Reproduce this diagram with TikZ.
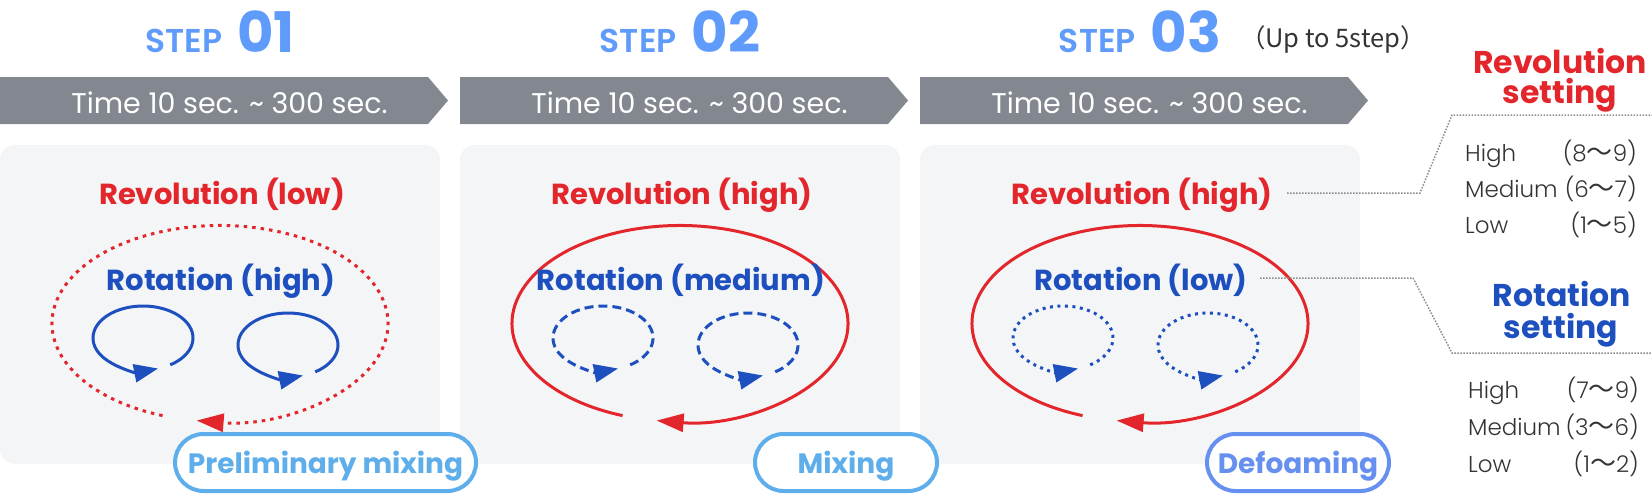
\documentclass[tikz,border=0pt]{standalone}
\usepackage{fontspec}
\setmainfont{Poppins}
\newfontfamily\popsemi{Poppins SemiBold}
\newfontfamily\poplight{Poppins Light}
\newfontfamily\cjk{Noto Sans CJK JP}
\usetikzlibrary{arrows.meta}
\definecolor{stepblue}{HTML}{5E9BFB}
\definecolor{bannergray}{HTML}{83878F}
\definecolor{boxgray}{HTML}{F4F5F7}
\definecolor{revred}{HTML}{E3262B}
\definecolor{rotblue}{HTML}{1D50BE}
\definecolor{pillblue}{HTML}{5DAEEA}
\definecolor{pillpurple}{HTML}{6690F0}
\definecolor{textdark}{HTML}{333333}
\definecolor{leadergray}{HTML}{8C8C8C}
\newcommand\wavedash{{\cjk\fontsize{26}{26}\selectfont 〜}}
\begin{document}
\begin{tikzpicture}[x=1pt,y=-1pt,
  lbl/.style={inner sep=0pt, anchor=base},
  steplbl/.style={lbl, text=stepblue},
  bantext/.style={lbl, text=white, font=\fontsize{28.5}{30}\selectfont},
  revlbl/.style={lbl, text=revred, font=\fontsize{29}{30}\selectfont\bfseries},
  rotlbl/.style={lbl, text=rotblue, font=\fontsize{29}{30}\selectfont\bfseries},
  setlbl/.style={lbl, font=\fontsize{31.5}{31}\selectfont\bfseries},
  panel/.style={fill=boxgray, rounded corners=15pt, minimum width=440pt, minimum height=319pt, inner sep=0pt},
  pill/.style={draw=#1, line width=4pt, fill=white, rounded corners=28.5pt, minimum height=57pt, text=#1, font=\fontsize{28}{30}\selectfont\bfseries, text height=22pt, text depth=0pt, inner sep=0pt},
  revsolid/.style={draw=revred, line width=3pt},
  revdot/.style={revsolid, dash pattern=on 3.5pt off 5pt},
  rotsolid/.style={draw=rotblue, line width=3pt},
  rotdash/.style={rotsolid, dash pattern=on 9pt off 5pt},
  rotdot/.style={rotsolid, dash pattern=on 3pt off 4.5pt},
  redtip/.style={-{Triangle[length=27pt,width=18pt]}},
  bluetip/.style={-{Triangle[length=24pt,width=18pt]}},
  leader/.style={draw=leadergray, line width=1.5pt, dash pattern=on 1.5pt off 1.5pt},
  listtxt/.style={lbl, text=textdark, font=\poplight\fontsize{23}{24}\selectfont},
]
\useasboundingbox (0,0) rectangle (1652,496);

% panels
\node[panel] (b1) at (220,304.5) {};
\node[panel] (b2) at (680,304.5) {};
\node[panel] (b3) at (1140,304.5) {};

% banners
\foreach \ox in {0,460,920} {
  \fill[bannergray] (\ox,77) -- (\ox+428,77) -- (\ox+448,100.5) -- (\ox+428,124) -- (\ox,124) -- cycle;
}
\node[bantext] (t1) at (229.5,113) {Time 10 sec. \char`\~{} 300 sec.};
\node[bantext] (t2) at (689.5,113) {Time 10 sec. \char`\~{} 300 sec.};
\node[bantext] (t3) at (1149.5,113) {Time 10 sec. \char`\~{} 300 sec.};

% step labels
\node[steplbl] (s1) at (220,52) {{\popsemi\fontsize{33}{33}\selectfont STEP}\hspace{15pt}{\bfseries\fontsize{56}{56}\selectfont 01}};
\node[steplbl] (s2) at (680,52) {{\popsemi\fontsize{33}{33}\selectfont STEP}\hspace{15pt}{\bfseries\fontsize{56}{56}\selectfont 02}};
\node[steplbl] (s3) at (1140,52) {{\popsemi\fontsize{33}{33}\selectfont STEP}\hspace{15pt}{\bfseries\fontsize{56}{56}\selectfont 03}};
\node[lbl, text=textdark, font=\cjk\fontsize{25.5}{26}\selectfont] (up) at (1333,47) {（Up to 5step）};

% circulation loops
\foreach \ox/\rs/\bs in {0/revdot/rotsolid, 460/revsolid/rotdash, 920/revsolid/rotdot} {
  \draw[\rs, redtip] (220+\ox,323.5) ++(110:168 and 98) arc[start angle=110, end angle=458, x radius=168, y radius=98];
  \draw[\bs, bluetip] (143+\ox,338) ++(57:50 and 32) arc[start angle=57, end angle=-287.5, x radius=50, y radius=32];
  \draw[\bs, bluetip] (288+\ox,345) ++(57:50 and 32) arc[start angle=57, end angle=-287.5, x radius=50, y radius=32];
}

% labels
\node[revlbl] (r1) at (222,204) {Revolution (low)};
\node[revlbl] (r2) at (682,204) {Revolution (high)};
\node[revlbl] (r3) at (1142,204) {Revolution (high)};
\node[rotlbl] (o1) at (221,290) {Rotation (high)};
\node[rotlbl] (o2) at (681,290) {Rotation (medium)};
\node[rotlbl] (o3) at (1141,290) {Rotation (low)};

% pills
\node[pill=pillblue, minimum width=301pt] (p1) at (325.5,462.5) {Preliminary mixing};
\node[pill=pillblue, minimum width=182pt] (p2) at (846,462.5) {Mixing};
\node[pill=pillpurple, minimum width=182pt] (p3) at (1298,462.5) {Defoaming};

% right side
\node[setlbl, text=revred, text depth=0pt] (rs1) at (1560,73.5) {Revolution};
\node[setlbl, text=revred, text height=19pt] (rs2) at (1560,103) {setting};
\node[setlbl, text=rotblue, text depth=0pt] (os1) at (1562,306) {Rotation};
\node[setlbl, text=rotblue, text height=19pt] (os2) at (1561,338) {setting};

\node[listtxt, anchor=base west] (rh) at (1465,161) {High};
\node[listtxt, anchor=base east] (rhv) at (1637,161) {(8\wavedash9)};
\node[listtxt, anchor=base west] (rm) at (1465,197) {Medium};
\node[listtxt, anchor=base east] (rmv) at (1637,197) {(6\wavedash7)};
\node[listtxt, anchor=base west] (rl) at (1465,233) {Low};
\node[listtxt, anchor=base east] (rlv) at (1637,233) {(1\wavedash5)};

\node[listtxt, anchor=base west] (oh) at (1468,398) {High};
\node[listtxt, anchor=base east] (ohv) at (1639,398) {(7\wavedash9)};
\node[listtxt, anchor=base west] (om) at (1468,435) {Medium};
\node[listtxt, anchor=base east] (omv) at (1639,435) {(3\wavedash6)};
\node[listtxt, anchor=base west] (ol) at (1468,472) {Low};
\node[listtxt, anchor=base east] (olv) at (1639,472) {(1\wavedash2)};

% leaders
\coordinate (la) at (1287,193);
\coordinate (lb) at (1652,115);
\draw[leader] (la) -- (1420,193) -- (1452,115) -- (lb);
\coordinate (lc) at (1260,278);
\coordinate (ld) at (1652,353);
\draw[leader] (lc) -- (1413,278) -- (1452,353) -- (ld);
\end{tikzpicture}
\end{document}
